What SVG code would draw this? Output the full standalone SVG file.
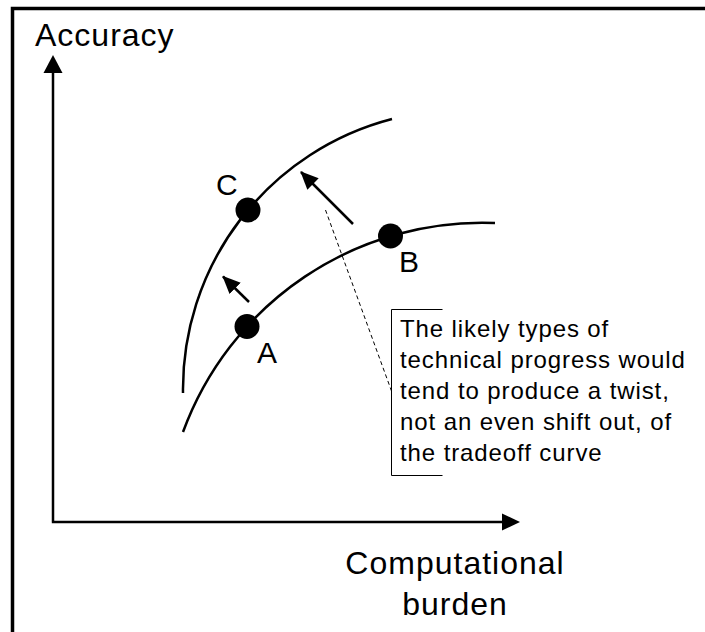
<svg xmlns="http://www.w3.org/2000/svg" width="705" height="632" viewBox="0 0 705 632">
<style>
.ln{fill:none;stroke:#000;stroke-width:2.5}
.big{font-family:"Liberation Sans",Arial,sans-serif;font-size:32px;letter-spacing:1px;fill:#000}
.lbl{font-family:"Liberation Sans",Arial,sans-serif;font-size:30px;fill:#000}
.note{font-family:"Liberation Sans",Arial,sans-serif;font-size:24px;letter-spacing:0.9px;fill:#000}
.dot{fill:#000}
</style>
<defs>
<marker id="ah" markerUnits="userSpaceOnUse" markerWidth="18" markerHeight="18" viewBox="0 0 18 18" refX="17" refY="9" orient="auto">
<path d="M0,1 L18,9 L0,17 Z" fill="#000"/>
</marker>
</defs>
<rect width="705" height="632" fill="#fff"/>
<g id="frame">
<path d="M12.5,632 L12.5,8.5 L705,8.5" fill="none" stroke="#000" stroke-width="3.5"/>
</g>
<g id="axes">
<path class="ln" d="M53,522 L53,70 M51.8,522 L505,522"/>
<polygon points="53,55 43.5,73 62.5,73" fill="#000"/>
<polygon points="520,522 502,513.5 502,530.5" fill="#000"/>
<text class="big" x="35" y="46">Accuracy</text>
<text class="big" x="455" y="574" text-anchor="middle">Computational</text>
<text class="big" x="455" y="615" text-anchor="middle">burden</text>
</g>
<g id="curve-upper">
<path class="ln" d="M183,393 A279,279 0 0 1 392,119"/>
</g>
<g id="curve-lower">
<path class="ln" d="M183,432 A318.5,318.5 0 0 1 495,223"/>
</g>
<g id="point-A">
<circle class="dot" cx="247" cy="326.5" r="12.5"/>
<text class="lbl" x="257" y="363">A</text>
</g>
<g id="point-B">
<circle class="dot" cx="390.5" cy="236" r="12.5"/>
<text class="lbl" x="399" y="272">B</text>
</g>
<g id="point-C">
<circle class="dot" cx="248" cy="210" r="12.5"/>
<text class="lbl" x="216" y="195">C</text>
</g>
<g id="annotation">
<path d="M442.5,309.5 L391.5,309.5 L391.5,475.5 L442.5,475.5" fill="none" stroke="#000" stroke-width="1"/>
<text class="note" x="400" y="337">The likely types of</text>
<text class="note" x="400" y="368">technical progress would</text>
<text class="note" x="400" y="399">tend to produce a twist,</text>
<text class="note" x="400" y="430">not an even shift out, of</text>
<text class="note" x="400" y="461">the tradeoff curve</text>
</g>
<g id="connectors">
<path class="ln" d="M353,224 L301,172" marker-end="url(#ah)"/>
<path class="ln" d="M249,302 L223,276.5" marker-end="url(#ah)"/>
<path d="M325.5,210 L391.5,391" fill="none" stroke="#000" stroke-width="1" stroke-dasharray="4,3"/>
</g>
</svg>
